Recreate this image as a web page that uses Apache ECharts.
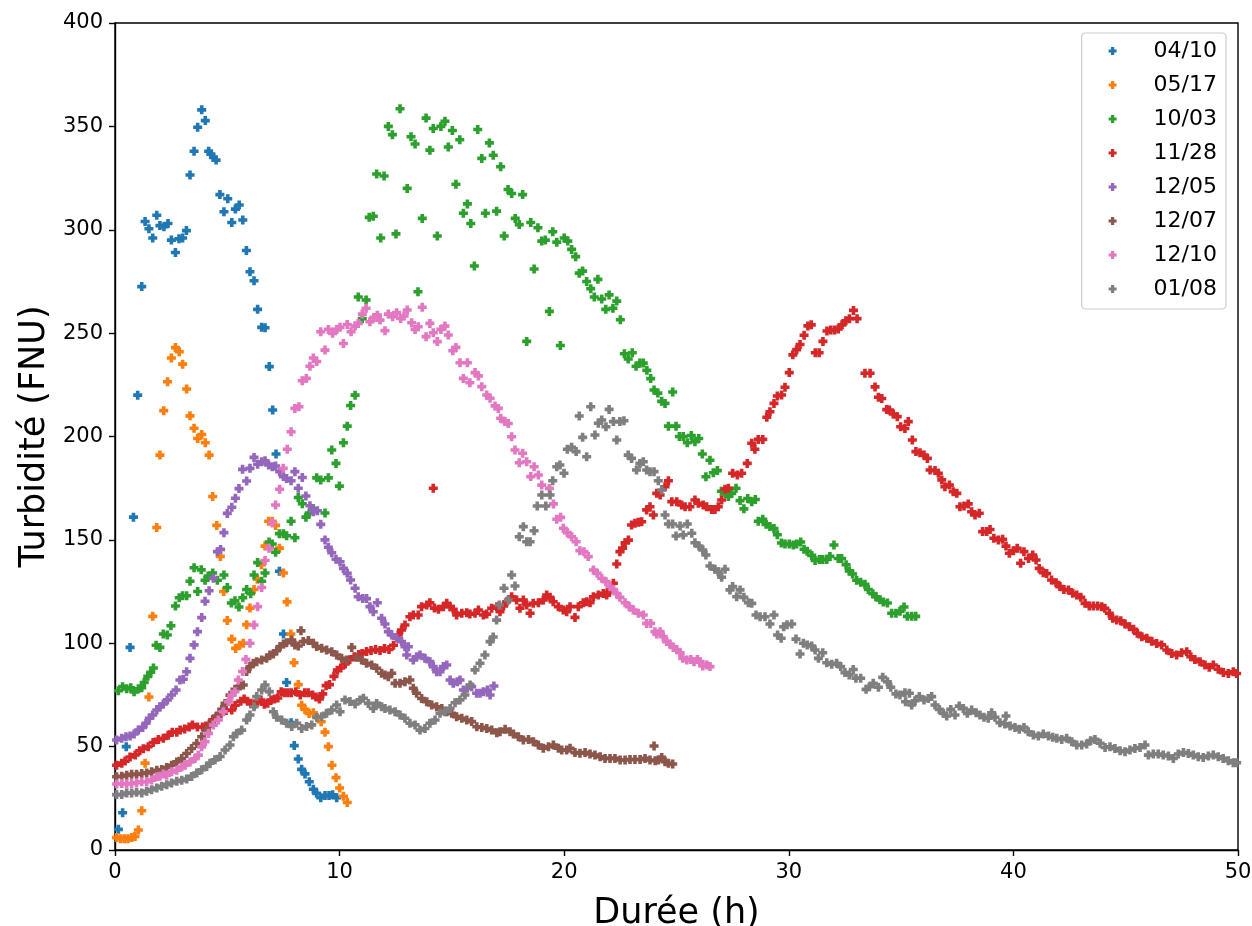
<!DOCTYPE html>
<html><head><meta charset="utf-8">
<script src="https://cdn.jsdelivr.net/npm/echarts@6/dist/echarts.min.js"></script>
<style>html,body{margin:0;padding:0;background:#fff;overflow:hidden}#c{width:1252px;height:926px}</style>
</head><body><div id="c"></div>
<script>
const seriesNames = ['04/10','05/17','10/03','11/28','12/05','12/07','12/10','01/08'];
const seriesColors = ['#1f77b4','#ff7f0e','#2ca02c','#d62728','#9467bd','#8c564b','#e377c2','#7f7f7f'];
const xTicks = [0,10,20,30,40,50];
const yTicks = [0,50,100,150,200,250,300,350,400];

// [durée (h), turbidité (FNU)]
const d0410 = [[0.15,10],[0.34,18],[0.5,50],[0.67,98],[0.82,161],[1.01,220],[1.19,272.5],[1.34,304],[1.51,300.5],[1.68,296],[1.86,307],[2.0,302],[2.18,301.5],[2.36,303],[2.51,295],[2.69,289],[2.85,295.6],[3.01,296],[3.18,299.6],[3.34,326.5],[3.52,338],[3.68,349.6],[3.86,358],[4.02,352.8],[4.17,338],[4.27,336.6],[4.38,335],[4.5,333.7],[4.67,317],[4.85,308.7],[5.02,315],[5.2,303.5],[5.36,310],[5.53,312],[5.69,304.7],[5.85,290],[6.01,279.7],[6.19,275.3],[6.35,261.5],[6.53,252.8],[6.68,252.6],[6.87,233.8],[7.02,212.8],[7.17,191.5],[7.32,134.8],[7.5,104.5],[7.64,81],[7.84,61.6],[7.98,50.5],[8.16,44],[8.31,39],[8.46,36.8],[8.65,33],[8.83,29.4],[8.98,27.4],[9.16,25.3],[9.35,26.3],[9.53,26.3],[9.69,26.7],[9.87,25.3]];
const d0517 = [[0.07,6],[0.24,5.5],[0.41,5.5],[0.58,5.5],[0.75,6],[0.89,6.5],[1.04,9.7],[1.19,19],[1.34,42],[1.51,74],[1.68,113],[1.86,156],[2.0,191],[2.17,212.5],[2.34,226.5],[2.51,238],[2.69,243],[2.86,241],[3.01,235],[3.19,223],[3.34,210],[3.52,204],[3.68,199],[3.86,201],[4.02,197],[4.19,191],[4.35,171],[4.53,157],[4.69,142],[4.84,125],[5.0,111],[5.2,102],[5.37,97.5],[5.55,99],[5.71,100],[5.86,109],[6.01,117],[6.19,126],[6.34,131],[6.52,138],[6.68,147],[6.84,159],[7.0,159],[7.15,157],[7.32,146],[7.5,134],[7.66,120],[7.83,104.5],[7.97,90.6],[8.16,80],[8.31,70],[8.46,68],[8.64,66],[8.83,66.4],[9.0,64],[9.18,62],[9.35,57],[9.5,50],[9.66,41],[9.84,35],[10.0,30],[10.17,26],[10.34,23]];
const d1003 = [[0.15,77],[0.34,79],[0.52,78],[0.7,78.5],[0.85,76.5],[1.04,78],[1.19,78.5],[1.3,81],[1.46,84],[1.59,86],[1.71,88],[1.83,99],[2.0,98],[2.15,104.5],[2.33,104],[2.49,108.5],[2.69,118],[2.86,122],[3.01,123],[3.19,123],[3.34,130],[3.52,136.5],[3.68,125],[3.84,135.5],[4.01,130.5],[4.15,132.5],[4.35,134],[4.56,130.5],[4.85,133],[5.0,127],[5.18,119.5],[5.34,120.5],[5.52,117.5],[5.69,122],[5.86,126],[6.04,124],[6.19,133],[6.35,139],[6.53,130],[6.68,134],[6.86,149],[7.0,148],[7.15,144],[7.32,153],[7.5,153],[7.64,152],[7.84,159],[8.01,151],[8.16,170.5],[8.34,167.5],[8.5,161],[8.65,163],[8.83,165],[8.98,180],[9.16,179],[9.35,163],[9.5,180],[9.65,193.5],[9.84,187],[9.99,176],[10.17,197],[10.34,205],[10.49,215],[10.69,220],[10.83,267.5],[11.01,257],[11.18,266],[11.32,306],[11.5,306.5],[11.65,327],[11.83,296],[11.98,326],[12.17,350],[12.35,346],[12.51,298],[12.69,358.5],[13.01,320],[13.18,345],[13.36,341.5],[13.49,270],[13.68,305.5],[13.85,354],[14.02,338.5],[14.17,349],[14.35,297],[14.51,350],[14.69,352.5],[14.84,340],[15.02,348],[15.18,322],[15.35,343.5],[15.51,308],[15.69,312.5],[15.84,303],[16.0,282.5],[16.15,348.5],[16.33,334.5],[16.49,308],[16.67,342],[16.84,336],[16.99,309],[17.17,330.5],[17.33,297],[17.5,319.5],[17.66,317.5],[17.82,305.5],[18.0,302.5],[18.15,317],[18.33,246],[18.51,303.5],[18.66,281],[18.83,301],[19.0,294.5],[19.16,295],[19.34,260.5],[19.49,299],[19.67,294],[19.83,244],[20.0,296],[20.16,294.5],[20.33,290.5],[20.51,287],[20.67,279],[20.82,280],[21.0,275],[21.18,271.5],[21.34,267.5],[21.5,276],[21.67,266.5],[21.85,261.5],[22.0,268.5],[22.17,262],[22.34,265.5],[22.5,256.5],[22.68,240],[22.85,237.5],[23.03,240.5],[23.2,234],[23.37,235.5],[23.52,235.5],[23.68,232],[23.85,228],[24.0,222.5],[24.17,221],[24.34,217],[24.49,216],[24.64,205],[24.83,221.5],[24.98,205],[25.13,200],[25.3,200],[25.48,197],[25.66,200.5],[25.82,197.5],[25.99,199],[26.15,191.5],[26.31,180.5],[26.49,188.5],[26.64,182.5],[26.82,183.5],[27.0,173.5],[27.16,173],[27.31,171],[27.46,172.5],[27.65,175],[27.83,169],[28.0,165],[28.17,170],[28.35,168.5],[28.51,169.5],[28.64,159],[28.84,160],[28.99,157.5],[29.16,156.5],[29.34,155.5],[29.49,152.5],[29.67,148.5],[29.83,148],[30.02,148],[30.2,147.5],[30.35,148],[30.53,149],[30.68,145.5],[30.82,144.5],[31.02,142.5],[31.17,140],[31.36,140.5],[31.51,140.5],[31.69,140.5],[31.83,142],[32.01,147.5],[32.2,141],[32.35,141],[32.55,138],[32.69,135],[32.84,133.5],[33.02,130.5],[33.2,129.5],[33.39,128.5],[33.54,126],[33.74,124],[33.88,122.5],[34.06,121],[34.21,120],[34.39,119.5],[34.58,114.5],[34.77,114.5],[34.95,115.5],[35.13,117.5],[35.28,113],[35.47,113],[35.65,113]];
const d1128 = [[0.07,41],[0.3,42],[0.45,43],[0.67,45],[0.9,46],[1.1,48],[1.26,49],[1.48,50],[1.7,52],[1.93,53.5],[2.15,54],[2.37,55.5],[2.55,57],[2.75,57],[2.9,58],[3.1,58.5],[3.3,59.5],[3.45,60.5],[3.67,59.5],[3.9,59.5],[4.05,60],[4.2,61],[4.35,63],[4.5,64.5],[4.72,66],[4.95,67.5],[5.2,67.7],[5.35,70],[5.6,72],[5.75,73],[5.9,72],[6.05,71],[6.2,70],[6.35,72],[6.5,72.5],[6.65,70.5],[6.8,71],[6.95,72.5],[7.1,73],[7.25,73.5],[7.4,76.5],[7.55,76],[7.7,76],[7.85,76],[8.05,76.5],[8.25,75],[8.45,76],[8.6,76],[8.8,75],[8.95,74],[9.1,73],[9.25,75.5],[9.4,79.5],[9.55,80],[9.75,84],[9.9,87],[10.05,88],[10.25,90],[10.45,92],[10.65,93.5],[10.85,94.5],[11.0,95],[11.2,96],[11.4,96.5],[11.6,97],[11.8,96.5],[12.0,97.5],[12.2,97],[12.4,99],[12.61,104],[12.76,106.4],[12.91,108.8],[13.13,112.8],[13.28,113.7],[13.5,113.7],[13.65,117.7],[13.88,118.5],[14.02,119.6],[14.17,175],[14.22,117],[14.4,116.4],[14.62,117.7],[14.77,119.3],[14.92,117.7],[15.06,116.4],[15.21,113.7],[15.44,114.5],[15.66,114.8],[15.8,114.1],[16.03,114.5],[16.18,116.1],[16.4,113.7],[16.55,114.1],[16.77,116.9],[17.0,117.7],[17.14,115.2],[17.3,118],[17.44,120.1],[17.66,122.5],[17.88,120.9],[18.03,116.9],[18.18,120.9],[18.33,118.5],[18.48,114.5],[18.62,119.3],[18.85,119.6],[19.07,120.9],[19.22,123.3],[19.37,122.2],[19.51,120.1],[19.74,117.7],[19.96,116.1],[20.11,115.2],[20.26,117.7],[20.48,112.5],[20.63,117.7],[20.85,119.6],[21.0,120.1],[21.15,119.6],[21.3,122.5],[21.52,123.3],[21.74,124.1],[21.89,123.3],[22.04,125.8],[22.19,129],[22.34,138.3],[22.48,144.3],[22.6,146],[22.71,148.6],[22.86,149.9],[23.0,157.2],[23.15,158],[23.3,158.5],[23.45,158.8],[23.67,164.5],[23.82,166],[23.97,162],[24.12,172.5],[24.27,171.7],[24.49,175.7],[24.64,178.6],[24.79,168.5],[25.01,168.5],[25.23,166.9],[25.38,166],[25.6,166],[25.82,169.3],[25.97,167.7],[26.19,166.9],[26.34,166],[26.57,164.7],[26.71,164.7],[26.86,166],[27.01,169.3],[27.16,174.5],[27.31,175],[27.5,182.2],[27.71,181.4],[27.9,182.2],[28.15,187],[28.35,196.7],[28.49,193.8],[28.64,198.6],[28.84,198.6],[29.02,209.3],[29.16,212],[29.34,216],[29.49,219.6],[29.68,220.1],[29.83,223.8],[30.02,230.9],[30.18,239.5],[30.35,242],[30.5,244.5],[30.68,249],[30.85,253.5],[31.0,254],[31.18,240.5],[31.35,240.5],[31.52,246],[31.7,251],[31.87,251.5],[32.04,251.5],[32.2,252],[32.37,254],[32.54,256],[32.7,257],[32.88,261],[33.04,257],[33.39,230.6],[33.62,230.6],[33.84,224],[33.99,219],[34.14,218.4],[34.36,213],[34.48,212.8],[34.65,210.9],[34.83,209.6],[34.98,204.7],[35.17,203.9],[35.32,207.2],[35.5,198.3],[35.66,192.7],[35.84,192.2],[36.02,191],[36.17,189.4],[36.29,183.8],[36.51,183.5],[36.66,182.2],[36.81,179],[36.95,175.7],[37.15,176.5],[37.32,173.3],[37.48,172.5],[37.62,166],[37.8,166.4],[37.99,167.4],[38.14,163.6],[38.29,162],[38.48,162.9],[38.63,154],[38.81,154],[38.96,155],[39.13,150.8],[39.33,150],[39.52,150.3],[39.67,147],[39.82,143.5],[40.0,144.8],[40.17,145.9],[40.32,138.7],[40.47,144.3],[40.67,141],[40.86,142.7],[41.01,140.3],[41.15,136.2],[41.33,134.1],[41.48,133.7],[41.7,130.6],[41.9,129.3],[42.07,127.4],[42.25,126],[42.45,125.8],[42.64,124.2],[42.82,123.3],[43.0,122.2],[43.19,119.3],[43.38,118],[43.56,118],[43.75,118],[43.93,117.7],[44.07,116.9],[44.27,114.5],[44.42,112.1],[44.6,111.3],[44.78,110.9],[44.97,109.3],[45.17,108],[45.35,106.8],[45.52,104.8],[45.72,103.2],[45.94,102.4],[46.16,101],[46.38,99.9],[46.6,99.2],[46.83,96.7],[47.05,95.1],[47.27,94.3],[47.49,95.4],[47.72,95.9],[47.9,93.5],[48.08,92.2],[48.31,91.1],[48.53,89.5],[48.72,88.4],[48.9,89.5],[49.12,87.4],[49.35,85.8],[49.57,85.4],[49.79,86.2],[49.94,85.4]];
const d1205 = [[0.07,53.2],[0.3,54],[0.49,54.8],[0.67,55.1],[0.85,56.1],[1.04,58],[1.23,59.3],[1.38,61.3],[1.53,63.7],[1.68,65.3],[1.86,67.7],[2.0,69.3],[2.15,70.6],[2.33,72.6],[2.52,75],[2.72,77.4],[2.89,82.2],[3.04,82.6],[3.19,86.2],[3.34,92.7],[3.52,99.2],[3.67,105.6],[3.86,112.4],[4.01,120.3],[4.19,125.4],[4.38,131.4],[4.56,144.3],[4.7,145.4],[4.85,153.5],[5.0,162.8],[5.2,165.8],[5.36,170.1],[5.52,174.8],[5.68,184.1],[5.86,178.5],[6.01,184.6],[6.19,189.9],[6.35,186.6],[6.53,187.8],[6.68,188.3],[6.84,186.2],[7.0,185.4],[7.15,185.7],[7.33,183],[7.5,180.6],[7.64,179.7],[7.84,178.6],[8.01,183],[8.16,175],[8.34,180.2],[8.5,171.2],[8.68,166.5],[8.83,163.6],[9.01,164.1],[9.16,157.5],[9.35,150],[9.5,146.4],[9.65,143.8],[9.84,140.6],[10.02,139.4],[10.17,136.2],[10.34,133.8],[10.49,130.6],[10.69,126.6],[10.83,122.5],[11.03,121.6],[11.2,121.6],[11.35,117.7],[11.5,115.2],[11.68,119.6],[11.87,112.1],[12.02,109.3],[12.17,105.6],[12.32,104],[12.54,102.4],[12.76,100.8],[12.91,98.3],[12.99,94.3],[13.06,98.3],[13.28,91.9],[13.43,93.5],[13.58,94.3],[13.8,92.7],[14.02,91.1],[14.17,88.7],[14.32,86.2],[14.47,86.2],[14.62,88.7],[14.77,89.5],[14.92,82.2],[15.06,80.6],[15.24,81.4],[15.36,82.2],[15.51,77.4],[15.69,78.2],[15.88,79],[16.1,75.8],[16.25,75.8],[16.4,76.6],[16.58,77.4],[16.7,75],[16.87,79.3]];
const d1207 = [[0.07,35.4],[0.3,35.7],[0.52,36.2],[0.74,36.6],[0.96,36.6],[1.19,37],[1.41,37.3],[1.63,37.8],[1.86,38.6],[2.08,38.9],[2.3,39.9],[2.52,41],[2.75,42.6],[2.97,44.2],[3.19,46.7],[3.41,49.1],[3.64,51.5],[3.86,54.8],[4.08,58],[4.3,61.2],[4.53,64.8],[4.75,68],[4.9,70.9],[5.12,74.9],[5.34,77.7],[5.57,79.3],[5.71,79.8],[5.86,86.3],[6.01,88.7],[6.16,90.3],[6.31,91.1],[6.53,91.9],[6.75,92.7],[6.9,94.3],[7.05,94.8],[7.2,96.4],[7.35,98.4],[7.5,99.6],[7.64,100.3],[7.87,101.6],[8.01,99.2],[8.16,98.7],[8.28,106],[8.38,100.8],[8.61,101.3],[8.83,100],[8.98,98.4],[9.2,97.6],[9.42,96.7],[9.65,95.9],[9.87,94.3],[10.09,92.7],[10.31,91.9],[10.54,98],[10.76,93.2],[10.98,91.9],[11.2,90.3],[11.43,89.5],[11.65,87.9],[11.87,85.5],[12.02,84.6],[12.17,83.8],[12.32,85.5],[12.47,80.6],[12.69,80.6],[12.91,81.4],[13.13,82.2],[13.28,78.2],[13.43,75.8],[13.65,73.3],[13.88,71.7],[14.1,70.1],[14.32,69.3],[14.55,68.5],[14.77,66.9],[14.99,66.1],[15.21,64.5],[15.44,63.7],[15.66,62.9],[15.88,62.1],[16.11,59.6],[16.33,59.3],[16.55,58.8],[16.77,58],[17.0,56.7],[17.14,57.2],[17.37,58.4],[17.59,57.2],[17.74,56.1],[17.96,54.8],[18.18,53.2],[18.41,53.5],[18.63,52.4],[18.85,50.8],[19.07,49.2],[19.3,50],[19.52,50.8],[19.74,49.2],[19.89,48.4],[20.11,48.4],[20.26,49.2],[20.48,47.1],[20.7,46.8],[20.93,47.1],[21.15,46.4],[21.37,45.9],[21.6,45.1],[21.82,44.3],[22.04,44.3],[22.26,44.3],[22.49,43.5],[22.71,43.5],[22.93,43.8],[23.15,43.8],[23.38,43.8],[23.6,44.3],[23.82,43.5],[24.0,50.3],[24.05,43.2],[24.19,43.5],[24.34,44.8],[24.49,42.7],[24.64,41.9],[24.83,41.6]];
const d1210 = [[0.07,31.9],[0.3,32.2],[0.52,31.9],[0.74,32.2],[0.96,32.5],[1.19,33],[1.41,33],[1.63,33.8],[1.86,35.4],[2.0,35.7],[2.15,36.7],[2.3,36.2],[2.52,37.8],[2.75,38.6],[2.97,40.2],[3.12,41],[3.34,42.6],[3.56,44.2],[3.71,45.9],[3.86,49.9],[4.01,52.4],[4.16,56.4],[4.38,60.4],[4.6,62.9],[4.82,66.9],[5.05,71.7],[5.2,74.9],[5.34,76.6],[5.49,82.2],[5.68,86.3],[5.83,92.2],[6.01,100],[6.19,108.8],[6.35,117.7],[6.53,127],[6.68,140],[6.86,145.9],[7.0,158.3],[7.15,166.9],[7.33,174.5],[7.49,184.6],[7.67,193.8],[7.84,202.3],[8.01,213.6],[8.19,214.4],[8.34,227],[8.52,228.1],[8.68,234],[8.83,238],[8.98,236.3],[9.16,250.7],[9.35,241.8],[9.5,251.8],[9.69,249.9],[9.87,251.8],[10.02,252.8],[10.17,245],[10.34,254.2],[10.51,250.7],[10.69,253.4],[10.83,254.7],[11.01,259.2],[11.18,262],[11.35,255.5],[11.53,257.6],[11.68,258.7],[11.8,256.3],[12.02,251.2],[12.17,259.2],[12.36,257.9],[12.54,259.9],[12.72,257.1],[12.87,258.3],[13.01,261.2],[13.21,255],[13.36,251.8],[13.5,253.1],[13.68,262.5],[13.85,248.3],[14.02,254.7],[14.17,250.2],[14.35,245.9],[14.51,251.8],[14.69,253.4],[14.84,249.1],[15.04,241.5],[15.18,243.1],[15.36,235.7],[15.51,228.1],[15.69,235.7],[15.8,226],[16.03,230.9],[16.18,229.3],[16.33,224.1],[16.55,220.1],[16.7,218.5],[16.92,214.8],[17.07,213.6],[17.17,208.8],[17.36,207.2],[17.51,206.3],[17.66,199.9],[17.81,193.5],[18.0,187.3],[18.15,191.9],[18.33,187.8],[18.51,180.6],[18.66,185.4],[18.85,181.4],[19.0,176.5],[19.34,174.9],[19.52,167.4],[19.67,160],[19.84,160.9],[19.96,155.6],[20.14,153.5],[20.33,151.5],[20.53,149.1],[20.7,144.8],[20.88,144.3],[21.07,141.9],[21.3,135.4],[21.47,133.8],[21.67,131.4],[21.86,129.8],[22.04,127.4],[22.19,126],[22.34,124],[22.48,122.2],[22.71,119.6],[22.9,117.7],[23.08,116.1],[23.3,114.5],[23.52,113.7],[23.67,109.6],[23.85,109.6],[24.04,105.6],[24.12,104.5],[24.27,105.6],[24.41,103.2],[24.56,100.8],[24.71,99.6],[24.86,98],[25.01,97],[25.16,95.4],[25.28,92.7],[25.46,91.9],[25.64,92.2],[25.78,91.1],[25.93,92.2],[26.05,91.1],[26.17,89],[26.35,89.5],[26.49,88.7]];
const d0108 = [[0.07,26.8],[0.3,26.8],[0.52,27.6],[0.74,27.6],[0.96,27.9],[1.19,27.6],[1.41,28.4],[1.63,29.2],[1.86,30],[2.08,30.8],[2.3,31.6],[2.52,32.4],[2.75,33.2],[2.97,33.7],[3.19,34.3],[3.41,35.6],[3.64,37.2],[3.86,38.8],[4.08,40.4],[4.23,42],[4.45,43.6],[4.68,45.2],[4.9,48.4],[5.12,50.8],[5.27,54.8],[5.42,56.4],[5.64,58],[5.86,62.9],[6.01,65.3],[6.19,69.3],[6.31,74.2],[6.53,77.4],[6.68,79.8],[6.87,76.6],[7.05,66.9],[7.2,64.2],[7.42,62.9],[7.64,61.3],[7.87,59.7],[8.09,61.3],[8.31,58.8],[8.53,59.7],[8.76,60.5],[8.98,64.2],[9.2,64.5],[9.42,66.1],[9.65,67.7],[9.87,70.1],[10.02,66.9],[10.24,72.6],[10.46,71.8],[10.69,70.6],[10.91,72.6],[11.06,73.4],[11.28,70.9],[11.5,68.5],[11.65,70.9],[11.87,69.3],[12.02,68.5],[12.24,67.7],[12.47,66.9],[12.69,65.3],[12.91,63.7],[13.13,61.3],[13.36,60.5],[13.58,58],[13.8,58.8],[14.02,61.3],[14.25,62.9],[14.47,66.1],[14.69,66.9],[14.92,68.5],[15.14,71.2],[15.36,72.6],[15.58,75],[15.81,79.8],[16.03,87.1],[16.25,90.3],[16.47,94.3],[16.7,100.8],[16.84,103],[16.99,111.2],[17.11,118.5],[17.32,126.6],[17.51,120.9],[17.66,133],[17.81,127.7],[18.0,151.5],[18.18,156.4],[18.33,149.1],[18.48,149.1],[18.66,154.4],[18.8,166.4],[19.0,171.7],[19.18,166.4],[19.37,171.7],[19.49,178.6],[19.67,185.4],[19.81,186.2],[19.99,182.2],[20.14,193.8],[20.33,194.8],[20.53,192.7],[20.67,209.9],[20.82,199.6],[21.0,190.2],[21.18,214.4],[21.37,200.7],[21.52,206.4],[21.67,208],[21.86,204.7],[22.0,213.1],[22.19,207.2],[22.34,198.3],[22.48,207.2],[22.66,207.6],[22.85,191],[23.0,189.4],[23.22,183.8],[23.37,187],[23.52,187.8],[23.67,183.8],[23.82,183],[24.0,183],[24.19,178.6],[24.34,174.1],[24.49,162],[24.64,157.7],[24.83,157.7],[24.98,151.9],[25.16,156.7],[25.3,152.4],[25.48,157.7],[25.68,153.2],[25.82,148.6],[26.0,147],[26.17,145.1],[26.31,142.7],[26.49,137.4],[26.71,135.8],[26.86,134.6],[27.01,131.9],[27.16,135.8],[27.38,125.8],[27.5,127.4],[27.68,122.5],[27.83,125.8],[28.0,122.2],[28.2,119.6],[28.35,119.3],[28.54,113.7],[28.72,112.8],[28.94,112.8],[29.16,109.3],[29.34,113.7],[29.5,104],[29.66,102.4],[29.77,108],[29.92,109],[30.13,109.3],[30.32,102],[30.5,94.8],[30.65,100],[30.82,99.2],[31.02,98.7],[31.17,96.7],[31.32,92.7],[31.51,95.4],[31.69,90.6],[31.91,89.9],[32.13,90.3],[32.31,88.7],[32.5,85.8],[32.69,84.7],[32.87,87.3],[32.99,83.1],[33.2,83.1],[33.44,77.7],[33.59,79],[33.76,80.6],[33.99,78.7],[34.18,83.5],[34.39,81.4],[34.54,78.7],[34.77,75.5],[34.95,75],[35.17,76.1],[35.2,71.7],[35.37,75.8],[35.47,70.1],[35.62,72.2],[35.81,74.2],[36.02,72.6],[36.21,73.3],[36.36,74.2],[36.51,70.1],[36.7,68],[36.88,66.1],[37.03,64.8],[37.21,68],[37.4,65.3],[37.59,69.6],[37.77,68.5],[37.95,66.1],[38.14,67.7],[38.34,66.4],[38.51,65.3],[38.69,64.2],[38.88,63.7],[39.03,66.4],[39.18,64.2],[39.4,61.6],[39.62,61],[39.67,64.8],[39.85,60],[40.07,59.3],[40.26,58.4],[40.47,59.3],[40.66,57.2],[40.89,55.6],[41.11,55.1],[41.33,56.1],[41.56,55.1],[41.75,54.5],[41.93,54],[42.15,53.5],[42.37,54],[42.6,52.4],[42.82,50.8],[43.04,50.8],[43.26,51.3],[43.44,52.9],[43.63,53.5],[43.86,51.6],[44.08,49.6],[44.3,49.9],[44.52,49.1],[44.75,48],[44.97,47.5],[45.19,48.4],[45.41,49.1],[45.64,49.6],[45.86,50.8],[46.01,45.9],[46.23,46.4],[46.45,46.4],[46.67,45.9],[46.9,45.5],[47.12,44.3],[47.34,46.4],[47.57,47.1],[47.79,46.7],[48.01,45.9],[48.23,45.1],[48.45,44.8],[48.68,45.5],[48.9,45.9],[49.12,45.1],[49.34,44.3],[49.57,43.2],[49.79,42.2],[49.94,42.2]];

const seriesData = [d0410, d0517, d1003, d1128, d1205, d1207, d1210, d0108];
const PLUS = 'path://M1.2 0H2.8V1.2H4V2.8H2.8V4H1.2V2.8H0V1.2H1.2Z';
const FONT = 'DejaVu Sans';

const chart = echarts.init(document.getElementById('c'), null, {renderer: 'canvas', width: 1252, height: 926});
chart.setOption({
  animation: false,
  backgroundColor: '#ffffff',
  grid: {left: 115, right: 14, top: 23, bottom: 76, show: true, borderColor: '#000', borderWidth: 1.4, containLabel: false, outerBoundsMode: 'none'},
  legend: {
    orient: 'vertical', right: 26, top: 33,
    data: seriesNames.map(n => ({name: n, icon: PLUS})),
    itemWidth: 8, itemHeight: 8, itemGap: 12,
    backgroundColor: 'rgba(255,255,255,0.8)', borderColor: '#cccccc', borderWidth: 1.2, borderRadius: 4,
    padding: [7, 9, 9, 27],
    textStyle: {fontFamily: FONT, fontSize: 22, color: '#000', lineHeight: 21, padding: [0, 0, 0, 32]}
  },
  xAxis: {
    type: 'value', min: xTicks[0], max: xTicks[xTicks.length - 1], interval: 10,
    name: 'Durée (h)', nameLocation: 'middle', nameGap: 46,
    nameTextStyle: {fontFamily: FONT, fontSize: 35, color: '#000'},
    axisLine: {show: true, lineStyle: {color: '#000', width: 1.4}},
    axisTick: {show: true, inside: false, length: 6, lineStyle: {color: '#000', width: 1.4}},
    axisLabel: {margin: 12, fontFamily: FONT, fontSize: 21, color: '#000'},
    splitLine: {show: false}
  },
  yAxis: {
    type: 'value', min: yTicks[0], max: yTicks[yTicks.length - 1], interval: 50,
    name: 'Turbidité (FNU)', nameLocation: 'middle', nameGap: 60, nameRotate: 90,
    nameTextStyle: {fontFamily: FONT, fontSize: 35, color: '#000'},
    axisLine: {show: true, lineStyle: {color: '#000', width: 1.4}},
    axisTick: {show: true, inside: false, length: 6, lineStyle: {color: '#000', width: 1.4}},
    axisLabel: {margin: 12, fontFamily: FONT, fontSize: 21, color: '#000'},
    splitLine: {show: false}
  },
  series: seriesNames.map((n, i) => ({
    name: n, type: 'scatter', data: seriesData[i],
    symbol: PLUS, symbolSize: 9,
    itemStyle: {color: seriesColors[i], opacity: 1},
    emphasis: {disabled: true}, silent: true
  }))
});
</script></body></html>
